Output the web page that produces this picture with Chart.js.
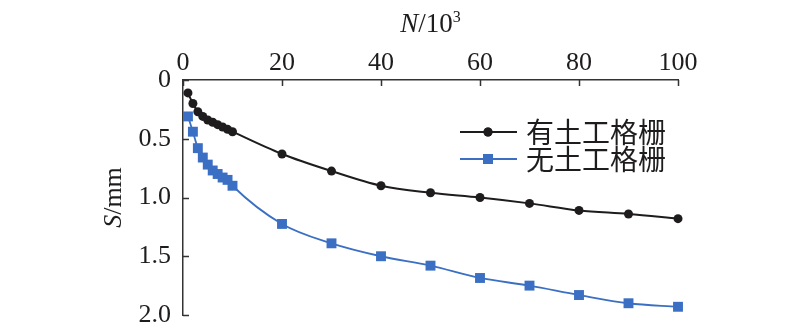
<!DOCTYPE html>
<html>
<head>
<meta charset="utf-8">
<title>S-N</title>
<script src="https://cdn.jsdelivr.net/npm/chart.js@4.4.0/dist/chart.umd.min.js"></script>
<style>
    html, body { margin: 0; padding: 0; background: #ffffff; }
    #wrap { width: 800px; height: 333px; }
</style>
</head>
<body>
<div id="wrap"><canvas id="lineChart" width="800" height="333"></canvas></div>
<script>
// Load cycles N (x 10^3) and settlement S (mm)
const cycles = [1, 2, 3, 4, 5, 6, 7, 8, 9, 10, 20, 30, 40, 50, 60, 70, 80, 90, 100];
const withGrid = [0.11, 0.20, 0.27, 0.31, 0.34, 0.36, 0.38, 0.40, 0.42, 0.44, 0.63, 0.775, 0.90, 0.96, 1.00, 1.05, 1.11, 1.14, 1.18];
const withoutGrid = [0.31, 0.44, 0.58, 0.66, 0.72, 0.77, 0.80, 0.83, 0.85, 0.90, 1.225, 1.39, 1.50, 1.58, 1.685, 1.75, 1.83, 1.90, 1.93];
const seriesNames = ['有土工格栅', '无土工格栅'];
const xTicks = [0, 20, 40, 60, 80, 100];
const yTicks = [0, 0.5, 1.0, 1.5, 2.0];

const black = '#1e1c1d';
const blue = '#3a6fc3';
const serif = '"Liberation Serif", "Times New Roman", serif';

function toPoints(values) {
    return cycles.map((n, i) => ({ x: n, y: values[i] }));
}

// Inward tick marks, axis titles and the legend
const decorations = {
    id: 'decorations',
    afterDraw(chart) {
        const ctx = chart.ctx;
        const area = chart.chartArea;
        const xs = chart.scales.x;
        const ys = chart.scales.y;

        ctx.save();
        ctx.strokeStyle = '#333333';
        ctx.lineWidth = 1.5;
        ctx.beginPath();
        xTicks.forEach(v => {
            const px = Math.round(xs.getPixelForValue(v)) + 0.5;
            ctx.moveTo(px, area.top);
            ctx.lineTo(px, area.top + 6);
        });
        yTicks.forEach(v => {
            const py = Math.round(ys.getPixelForValue(v)) + 0.5;
            ctx.moveTo(area.left, py);
            ctx.lineTo(area.left + 6, py);
        });
        ctx.stroke();

        // x title: N/10^3
        ctx.fillStyle = black;
        ctx.textBaseline = 'alphabetic';
        const base = 32;
        const italic = 'italic 27px ' + serif;
        const upright = '27px ' + serif;
        const sup = '16px ' + serif;
        ctx.font = italic;
        const wN = ctx.measureText('N').width;
        ctx.font = upright;
        const wRest = ctx.measureText('/10').width;
        ctx.font = sup;
        const wSup = ctx.measureText('3').width;
        let tx = (area.left + area.right) / 2 - (wN + wRest + wSup) / 2;
        ctx.textAlign = 'left';
        ctx.font = italic;
        ctx.fillText('N', tx, base);
        tx += wN;
        ctx.font = upright;
        ctx.fillText('/10', tx, base);
        tx += wRest;
        ctx.font = sup;
        ctx.fillText('3', tx, base - 10);

        // y title: S/mm, rotated
        ctx.save();
        ctx.translate(121, (area.top + area.bottom) / 2);
        ctx.rotate(-Math.PI / 2);
        ctx.font = 'italic 26px ' + serif;
        const wS = ctx.measureText('S').width;
        ctx.font = '26px ' + serif;
        const wMm = ctx.measureText('/mm').width;
        let ty = -(wS + wMm) / 2;
        ctx.font = 'italic 26px ' + serif;
        ctx.fillText('S', ty, 0);
        ctx.font = '26px ' + serif;
        ctx.fillText('/mm', ty + wS, 0);
        ctx.restore();

        // legend: line with marker, then name
        const rows = [
            { y: 132, color: black, style: 'circle', radius: 4.5, width: 2 },
            { y: 159, color: blue, style: 'rect', radius: 7, width: 2 }
        ];
        rows.forEach((r, i) => {
            ctx.strokeStyle = r.color;
            ctx.lineWidth = r.width;
            ctx.beginPath();
            ctx.moveTo(460, r.y);
            ctx.lineTo(517, r.y);
            ctx.stroke();
            ctx.fillStyle = r.color;
            Chart.helpers.drawPoint(ctx, { pointStyle: r.style, radius: r.radius, borderWidth: 0 }, 488, r.y);
            ctx.fill();
            ctx.fillStyle = black;
            ctx.font = '28px "Noto Sans CJK SC", sans-serif';
            ctx.textBaseline = 'middle';
            ctx.fillText(seriesNames[i], 526, r.y);
        });
        ctx.restore();
    }
};

const ctx = document.getElementById('lineChart').getContext('2d');
const lineChart = new Chart(ctx, {
    type: 'line',
    data: {
        datasets: [
            {
                label: seriesNames[0],
                data: toPoints(withGrid),
                borderColor: black,
                backgroundColor: black,
                borderWidth: 2,
                pointStyle: 'circle',
                pointRadius: 4.5,
                pointBorderWidth: 0,
                cubicInterpolationMode: 'monotone',
                clip: false
            },
            {
                label: seriesNames[1],
                data: toPoints(withoutGrid),
                borderColor: blue,
                backgroundColor: blue,
                borderWidth: 1.8,
                pointStyle: 'rect',
                pointRadius: 7,
                pointBorderWidth: 0,
                cubicInterpolationMode: 'monotone',
                clip: false
            }
        ]
    },
    options: {
        responsive: false,
        animation: false,
        layout: { padding: { left: 0, top: 0, right: 122, bottom: 18 } },
        plugins: {
            legend: { display: false },
            tooltip: { enabled: false }
        },
        scales: {
            x: {
                type: 'linear',
                position: 'top',
                min: 0,
                max: 100,
                afterBuildTicks: scale => { scale.ticks = xTicks.map(v => ({ value: v })); },
                afterFit: scale => { scale.height = 80; },
                grid: { display: false, drawTicks: false },
                border: { display: true, color: '#333333', width: 1.5 },
                ticks: {
                    color: black,
                    padding: 1,
                    maxRotation: 0,
                    font: { family: serif, size: 26 }
                }
            },
            y: {
                type: 'linear',
                reverse: true,
                min: 0,
                max: 2,
                afterBuildTicks: scale => { scale.ticks = yTicks.map(v => ({ value: v })); },
                afterFit: scale => {
                    // fixed width, and no extra room for the end labels
                    scale.width = 183;
                    scale.paddingTop = 0;
                    scale.paddingBottom = 0;
                },
                grid: { display: false, drawTicks: false },
                border: { display: true, color: '#333333', width: 1.5 },
                ticks: {
                    color: black,
                    padding: 12,
                    font: { family: serif, size: 26 },
                    callback: v => v === 0 ? '0' : v.toFixed(1)
                }
            }
        }
    },
    plugins: [decorations]
});
</script>
</body>
</html>
